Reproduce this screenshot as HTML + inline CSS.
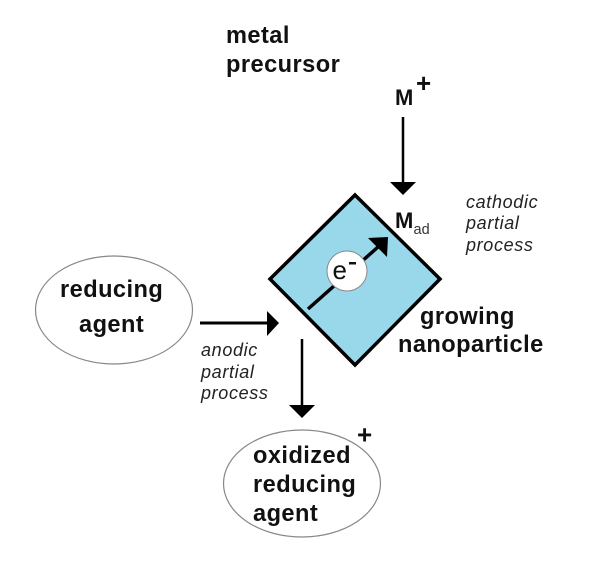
<!DOCTYPE html>
<html>
<head>
<meta charset="utf-8">
<style>
html,body{margin:0;padding:0;background:#fff;}
svg{display:block;}
text{font-family:"Liberation Sans",sans-serif;fill:#111;}
.b{font-weight:bold;font-size:23.6px;letter-spacing:.45px;}
.i{font-style:italic;font-size:18px;letter-spacing:.65px;fill:#222;}
</style>
</head>
<body>
<svg width="614" height="569" viewBox="0 0 614 569" xmlns="http://www.w3.org/2000/svg">
<rect width="614" height="569" fill="#fff"/>
<polygon points="355,195 440,279 355,365 270,279" fill="#99d8ea" stroke="#000" stroke-width="3.5" stroke-linejoin="miter"/>
<line x1="308" y1="309" x2="378" y2="247" stroke="#000" stroke-width="3.5"/>
<polygon points="388,237 368,238 387,257" fill="#000"/>
<circle cx="347" cy="271" r="20" fill="#fff" stroke="#888" stroke-width="1"/>
<text x="332.5" y="279" style="font-size:26px">e</text>
<rect x="349" y="262" width="7" height="2.5" fill="#111"/>
<ellipse cx="114" cy="310" rx="78.5" ry="54" fill="#fff" stroke="#888" stroke-width="1.2"/>
<ellipse cx="302" cy="483.5" rx="78.5" ry="53.5" fill="#fff" stroke="#888" stroke-width="1.2"/>
<line x1="200" y1="323" x2="268" y2="323" stroke="#000" stroke-width="3"/>
<polygon points="267,311 279,323 267,336" fill="#000"/>
<line x1="302" y1="339" x2="302" y2="406" stroke="#000" stroke-width="2.5"/>
<polygon points="289,405 315,405 302,418" fill="#000"/>
<line x1="403" y1="117" x2="403" y2="183" stroke="#000" stroke-width="2.5"/>
<polygon points="390,182 416,182 403,195" fill="#000"/>
<text class="b" x="226" y="43">metal</text>
<text class="b" x="226" y="72">precursor</text>
<text class="b" x="395" y="105" style="font-size:22px;letter-spacing:0">M</text>
<text class="b" x="416" y="92" style="font-size:26px;letter-spacing:0">+</text>
<text class="b" x="395" y="228" style="font-size:22px;letter-spacing:0">M</text>
<text x="413.5" y="234" style="font-size:14.5px;fill:#333">ad</text>
<text class="i" x="466" y="208">cathodic</text>
<text class="i" x="466" y="229">partial</text>
<text class="i" x="466" y="251">process</text>
<text class="b" x="60" y="297">reducing</text>
<text class="b" x="79" y="332">agent</text>
<text class="i" x="201" y="356">anodic</text>
<text class="i" x="201" y="378">partial</text>
<text class="i" x="201" y="399">process</text>
<text class="b" x="420" y="324">growing</text>
<text class="b" x="398" y="352">nanoparticle</text>
<text class="b" x="253" y="463">oxidized</text>
<text class="b" x="253" y="492">reducing</text>
<text class="b" x="253" y="521">agent</text>
<text class="b" x="357" y="443.5" style="font-size:26px;letter-spacing:0">+</text>
</svg>
</body>
</html>
